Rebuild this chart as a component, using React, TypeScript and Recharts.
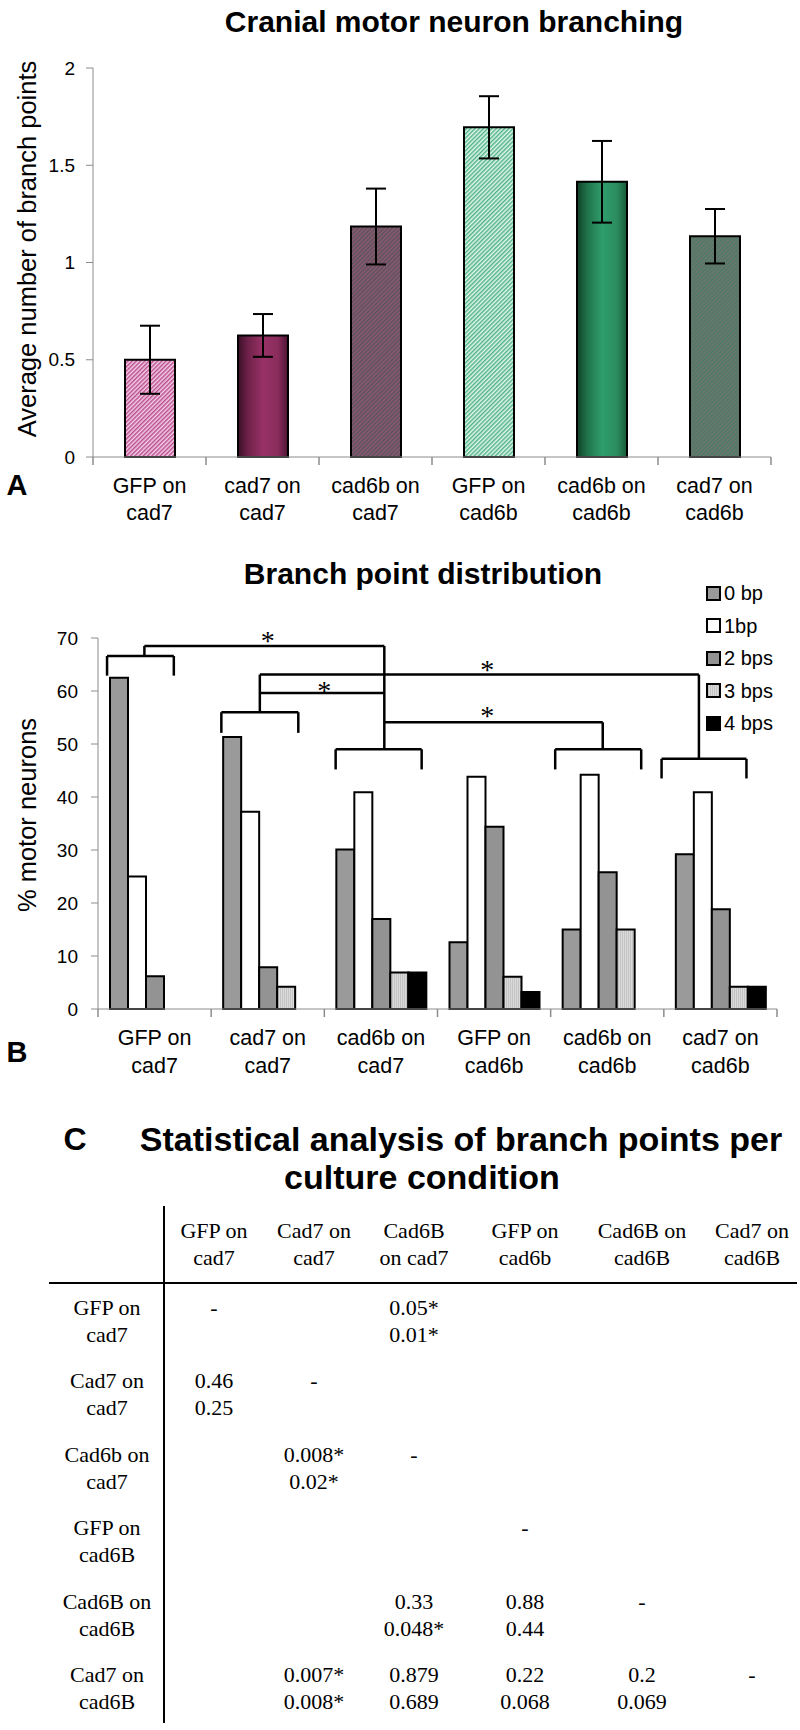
import { BarChart, Bar, XAxis, YAxis, ErrorBar, Cell, ReferenceLine, ReferenceDot } from 'recharts'

// conditions (x categories), shared by panels A and B
const conditions = ['GFP on\ncad7', 'cad7 on\ncad7', 'cad6b on\ncad7', 'GFP on\ncad6b', 'cad6b on\ncad6b', 'cad7 on\ncad6b']

// panel A: mean branch points and error
const branchMeans = [0.5, 0.625, 1.185, 1.695, 1.415, 1.135]
const branchErrors = [0.175, 0.11, 0.195, 0.16, 0.21, 0.14]
const branchTicks = [0, 0.5, 1, 1.5, 2]
const branchFills = ['url(#hatchPink)', 'url(#gradMagenta)', 'url(#hatchMauve)', 'url(#hatchMint)', 'url(#gradGreen)', 'url(#hatchSage)']

// panel B: % motor neurons per number of branch points
const bpSeries = ['0 bp', '1bp', '2 bps', '3 bps', '4 bps']
const bp0 = [62.5, 51.3, 30.1, 12.6, 15.0, 29.2]
const bp1 = [25.0, 37.2, 40.9, 43.8, 44.2, 40.9]
const bp2 = [6.2, 7.9, 17.0, 34.4, 25.8, 18.8]
const bp3 = [0, 4.2, 6.9, 6.1, 15.0, 4.2]
const bp4 = [0, 0, 6.9, 3.2, 0, 4.2]
const distTicks = [0, 10, 20, 30, 40, 50, 60, 70]
const bpFills = ['#9a9a9a', '#ffffff', '#939393', 'url(#dotsLight)', '#000000']

// significance brackets, in category units (0..6) and % units
const bracketSegments: [number, number, number, number][] = [
  [0.08, 66.6, 0.67, 66.6], [0.08, 66.6, 0.08, 62.9], [0.67, 66.6, 0.67, 62.9], [0.41, 66.6, 0.41, 68.5],
  [0.41, 68.5, 2.53, 68.5], [2.53, 68.5, 2.53, 49.0],
  [1.09, 56.0, 1.77, 56.0], [1.09, 56.0, 1.09, 52.1], [1.77, 56.0, 1.77, 52.1], [1.43, 56.0, 1.43, 63.1],
  [1.43, 59.6, 2.53, 59.6],
  [1.43, 63.1, 5.31, 63.1], [5.31, 63.1, 5.31, 47.2],
  [2.1, 49.0, 2.86, 49.0], [2.1, 49.0, 2.1, 45.2], [2.86, 49.0, 2.86, 45.2],
  [2.53, 54.1, 4.46, 54.1], [4.46, 54.1, 4.46, 49.0],
  [4.04, 49.0, 4.8, 49.0], [4.04, 49.0, 4.04, 45.2], [4.8, 49.0, 4.8, 45.2],
  [4.98, 47.2, 5.73, 47.2], [4.98, 47.2, 4.98, 43.5], [5.73, 47.2, 5.73, 43.5],
]
const starX = [1.5, 2.0, 3.44, 3.44]
const starY = [70.1, 60.7, 64.7, 56.0]

// panel C table
const tableCols = ['GFP on\ncad7', 'Cad7 on\ncad7', 'Cad6B\non cad7', 'GFP on\ncad6b', 'Cad6B on\ncad6B', 'Cad7 on\ncad6B']
const tableRows = ['GFP on\ncad7', 'Cad7 on\ncad7', 'Cad6b on\ncad7', 'GFP on\ncad6B', 'Cad6B on\ncad6B', 'Cad7 on\ncad6B']
const tableCells = [
  ['-', '', '0.05*\n0.01*', '', '', ''],
  ['0.46\n0.25', '-', '', '', '', ''],
  ['', '0.008*\n0.02*', '-', '', '', ''],
  ['', '', '', '-', '', ''],
  ['', '', '0.33\n0.048*', '0.88\n0.44', '-', ''],
  ['', '0.007*\n0.008*', '0.879\n0.689', '0.22\n0.068', '0.2\n0.069', '-'],
]

const branchData = conditions.map((c, i) => ({ name: c, mean: branchMeans[i], err: branchErrors[i] }))
const distData = conditions.map((c, i) => ({ name: c, slot: i + 0.5, b0: bp0[i], b1: bp1[i], b2: bp2[i], b3: bp3[i], b4: bp4[i] }))
const bpKeys = ['b0', 'b1', 'b2', 'b3', 'b4']

const SANS = '"Liberation Sans", Arial, sans-serif'
const SERIF = '"Liberation Serif", "Times New Roman", serif'
const AXIS_GRAY = '#8c8c8c'

function CategoryTick(props: any) {
  const { x, y, payload, index, half, dy1, dy2 } = props
  const h = payload && payload.offset ? payload.offset : half
  const lines = String(payload.value).split('\n')
  const last = index === conditions.length - 1
  return (
    <g>
      <line x1={x - h} y1={y} x2={x - h} y2={y + 8} stroke={AXIS_GRAY} strokeWidth={1.5} />
      {last && <line x1={x + h} y1={y} x2={x + h} y2={y + 8} stroke={AXIS_GRAY} strokeWidth={1.5} />}
      <text x={x} y={y + dy1} textAnchor="middle" dominantBaseline="central" fontSize={21.5} fill="#000" fontFamily={SANS}>{lines[0]}</text>
      <text x={x} y={y + dy2} textAnchor="middle" dominantBaseline="central" fontSize={21.5} fill="#000" fontFamily={SANS}>{lines[1]}</text>
    </g>
  )
}

function Txt({ x, y, children, size = 20, bold = false, font = SANS, rotate = 0 }: any) {
  return (
    <div
      style={{
        position: 'absolute', left: x, top: y, whiteSpace: 'nowrap', fontSize: size, fontFamily: font,
        fontWeight: bold ? 'bold' : 'normal', lineHeight: 1, color: '#000',
        transform: `translate(-50%, -50%) rotate(${rotate}deg)`,
      }}
    >
      {children}
    </div>
  )
}

function Patterns() {
  return (
    <svg width={0} height={0} style={{ position: 'absolute' }}>
      <defs>
        <pattern id="hatchPink" patternUnits="userSpaceOnUse" width={3} height={3} patternTransform="rotate(45)">
          <rect width={3} height={3} fill="#f3d2e6" />
          <rect width={1.5} height={3} fill="#bb4c8f" />
        </pattern>
        <pattern id="hatchMauve" patternUnits="userSpaceOnUse" width={3} height={3} patternTransform="rotate(45)">
          <rect width={3} height={3} fill="#8e5a76" />
          <rect width={1.5} height={3} fill="#5a5258" />
        </pattern>
        <pattern id="hatchMint" patternUnits="userSpaceOnUse" width={3} height={3} patternTransform="rotate(45)">
          <rect width={3} height={3} fill="#e6f7ee" />
          <rect width={1.5} height={3} fill="#4fb386" />
        </pattern>
        <pattern id="hatchSage" patternUnits="userSpaceOnUse" width={3} height={3} patternTransform="rotate(45)">
          <rect width={3} height={3} fill="#4c7a63" />
          <rect width={1.5} height={3} fill="#6e7672" />
        </pattern>
        <pattern id="dotsLight" patternUnits="userSpaceOnUse" width={2} height={2}>
          <rect width={2} height={2} fill="#dadada" />
          <rect width={1} height={2} fill="#c4c4c4" />
        </pattern>
        <linearGradient id="gradMagenta" x1="0" y1="0" x2="1" y2="0">
          <stop offset="0" stopColor="#3a0f27" />
          <stop offset="0.2" stopColor="#6e2149" />
          <stop offset="0.5" stopColor="#983266" />
          <stop offset="0.8" stopColor="#8a2c5c" />
          <stop offset="1" stopColor="#4a1533" />
        </linearGradient>
        <linearGradient id="gradGreen" x1="0" y1="0" x2="1" y2="0">
          <stop offset="0" stopColor="#123f2a" />
          <stop offset="0.2" stopColor="#207249" />
          <stop offset="0.5" stopColor="#2f9e6c" />
          <stop offset="0.8" stopColor="#2a8c5f" />
          <stop offset="1" stopColor="#1a5a3a" />
        </linearGradient>
      </defs>
    </svg>
  )
}

function BranchChart() {
  return (
    <BarChart width={800} height={545} data={branchData} margin={{ top: 68, right: 29, left: 0, bottom: 0 }}>
      <YAxis
        width={93}
        domain={[0, 2]}
        ticks={branchTicks}
        tickSize={7}
        tickMargin={11}
        stroke={AXIS_GRAY}
        tick={{ fill: '#000', fontSize: 19, fontFamily: SANS }}
      />
      <XAxis
        dataKey="name"
        height={88}
        tickLine={false}
        tickSize={0}
        tickMargin={0}
        stroke={AXIS_GRAY}
        interval={0}
        tick={(p: any) => <CategoryTick {...p} half={56.5} dy1={29} dy2={56} />}
      />
      <Bar dataKey="mean" barSize={50} stroke="#000" strokeWidth={2} isAnimationActive={false}>
        {branchData.map((d, i) => (
          <Cell key={d.name} fill={branchFills[i]} />
        ))}
        <ErrorBar dataKey="err" width={10} stroke="#000" strokeWidth={2} direction="y" />
      </Bar>
    </BarChart>
  )
}

function DistributionChart() {
  return (
    <BarChart width={800} height={560} data={distData} barGap={0} margin={{ top: 98, right: 23, left: 0, bottom: 0 }}>
      <YAxis
        width={98}
        domain={[0, 70]}
        ticks={distTicks}
        tickSize={7}
        tickMargin={13}
        stroke={AXIS_GRAY}
        tick={{ fill: '#000', fontSize: 19, fontFamily: SANS }}
      />
      <XAxis
        dataKey="name"
        height={91}
        tickLine={false}
        tickSize={0}
        tickMargin={0}
        stroke={AXIS_GRAY}
        interval={0}
        tick={(p: any) => <CategoryTick {...p} half={56.6} dy1={29} dy2={57} />}
      />
      <XAxis xAxisId="num" dataKey="slot" type="number" domain={[0, 6]} allowDataOverflow hide />
      {bpKeys.map((k, i) => (
        <Bar key={k} dataKey={k} name={bpSeries[i]} barSize={18} fill={bpFills[i]} stroke="#000" strokeWidth={2} isAnimationActive={false} />
      ))}
      {bracketSegments.map((s, i) => (
        <ReferenceLine
          key={'br' + i}
          xAxisId="num"
          segment={[{ x: s[0], y: s[1] }, { x: s[2], y: s[3] }]}
          stroke="#000"
          strokeWidth={2.5}
          ifOverflow="visible"
        />
      ))}
      {starX.map((sx, i) => (
        <ReferenceDot
          key={'st' + i}
          xAxisId="num"
          x={sx}
          y={starY[i]}
          r={0}
          ifOverflow="visible"
          shape={(p: any) => (
            <text x={p.cx} y={p.cy + 13} textAnchor="middle" fontSize={28} fontFamily={SERIF} fill="#000">*</text>
          )}
        />
      ))}
    </BarChart>
  )
}

function Legend() {
  return (
    <div style={{ position: 'absolute', left: 706, top: 577 }}>
      {bpSeries.map((s, i) => (
        <div key={s} style={{ display: 'flex', alignItems: 'center', height: 32.5 }}>
          <svg width={15} height={15}>
            <rect x={1} y={1} width={13} height={13} fill={bpFills[i]} stroke="#000" strokeWidth={2} />
          </svg>
          <span style={{ marginLeft: 3, fontSize: 20, fontFamily: SANS, lineHeight: 1 }}>{s}</span>
        </div>
      ))}
    </div>
  )
}

function Table() {
  const colX = [214, 314, 414, 525, 642, 752]
  const rowY = [1308, 1381, 1455, 1528, 1602, 1675]
  const lineGap = 27
  const two = (txt: string, x: number, y: number, key: string) =>
    txt.split('\n').map((l, j) => (
      <Txt key={key + j} x={x} y={y + j * lineGap} size={22} font={SERIF}>{l}</Txt>
    ))
  return (
    <>
      <div style={{ position: 'absolute', left: 163, top: 1206, width: 2, height: 517, background: '#000' }} />
      <div style={{ position: 'absolute', left: 49, top: 1282, width: 748, height: 2, background: '#000' }} />
      {tableCols.map((c, i) => two(c, colX[i], 1231, 'c' + i))}
      {tableRows.map((r, i) => two(r, 107, rowY[i], 'r' + i))}
      {tableCells.map((row, i) => row.map((cell, j) => (cell ? two(cell, colX[j], rowY[i], 'v' + i + '-' + j) : null)))}
    </>
  )
}

export default function App() {
  return (
    <div style={{ position: 'absolute', left: 0, top: 0, width: 800, height: 1730, background: '#fff', fontFamily: SANS }}>
      <Patterns />
      <div style={{ position: 'absolute', left: 0, top: 0 }}>
        <BranchChart />
      </div>
      <div style={{ position: 'absolute', left: 0, top: 540 }}>
        <DistributionChart />
      </div>
      <Legend />
      <Txt x={454} y={22} size={30} bold>Cranial motor neuron branching</Txt>
      <Txt x={28} y={249} size={25.5} rotate={-90}>Average number of branch points</Txt>
      <Txt x={17} y={485} size={29} bold>A</Txt>
      <Txt x={423} y={574} size={30} bold>Branch point distribution</Txt>
      <Txt x={28} y={815} size={25.5} rotate={-90}>% motor neurons</Txt>
      <Txt x={17} y={1052} size={29} bold>B</Txt>
      <Txt x={75} y={1139} size={32} bold>C</Txt>
      <Txt x={461} y={1139} size={34} bold>Statistical analysis of branch points per</Txt>
      <Txt x={422} y={1177} size={34} bold>culture condition</Txt>
      <Table />
    </div>
  )
}
